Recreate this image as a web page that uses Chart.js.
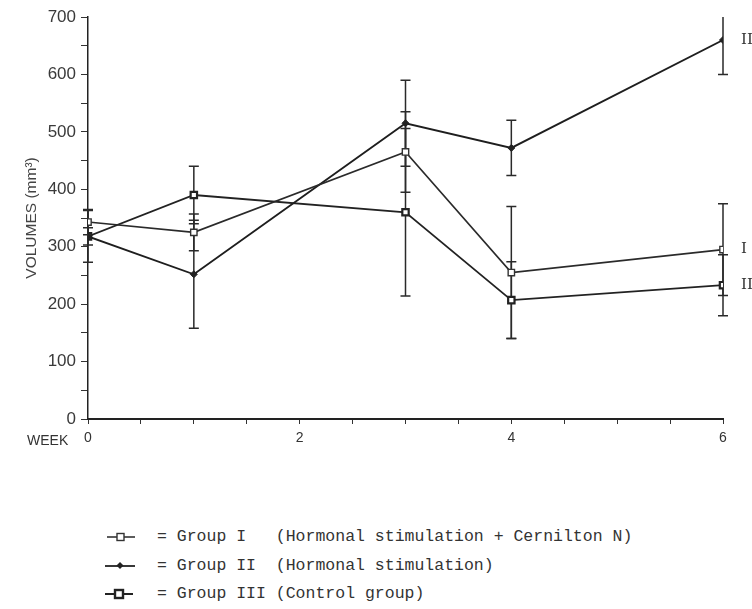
<!DOCTYPE html>
<html>
<head>
<meta charset="utf-8">
<script src="https://cdn.jsdelivr.net/npm/chart.js@4"></script>
<style>
  body { margin: 0; background: #fff; }
  #wrap { position: relative; width: 752px; height: 609px; overflow: hidden; }
  #myChart { position: absolute; left: 0; top: 0; }
  .week { position: absolute; left: 27px; top: 432px; font: 14px "Liberation Sans", sans-serif; color: #333; }
  .legend { position: absolute; left: 0; top: 0; font: 16.5px "Liberation Mono", monospace; color: #333; white-space: pre; }
  .row { position: absolute; left: 105px; height: 20px; line-height: 20px; }
  .row svg { position: absolute; left: 0; top: 4px; }
  .row span { position: absolute; left: 52px; top: 0; }
</style>
</head>
<body>
<div id="wrap">
  <canvas id="myChart" width="752" height="470"></canvas>
  <div class="week">WEEK</div>
  <div class="legend">
    <div class="row" style="top:527px">
      <svg width="32" height="12"><line x1="2" y1="6" x2="30" y2="6" stroke="#333" stroke-width="1.6"/><rect x="12" y="2.5" width="7" height="7" fill="#fff" stroke="#333" stroke-width="1.4"/></svg>
      <span>= Group I   (Hormonal stimulation + Cernilton N)</span>
    </div>
    <div class="row" style="top:556px">
      <svg width="32" height="12"><line x1="0" y1="6" x2="30" y2="6" stroke="#222" stroke-width="1.8"/><rect x="12.5" y="3" width="5" height="5" fill="#222" transform="rotate(45 15 5.5)"/></svg>
      <span>= Group II  (Hormonal stimulation)</span>
    </div>
    <div class="row" style="top:584px">
      <svg width="32" height="12"><line x1="0" y1="6" x2="28" y2="6" stroke="#222" stroke-width="2"/><rect x="10" y="2" width="8" height="8" fill="#fff" stroke="#222" stroke-width="2.4"/></svg>
      <span>= Group III (Control group)</span>
    </div>
  </div>
</div>
<script>
// weeks of measurement
const weeks = [0, 1, 3, 4, 6];

// mean volumes (mm3) and error bar half-lengths
const groupI = [343, 325, 465, 255, 295];
const groupIErr = [22, 32, 70, 115, 80];
const groupII = [318, 252, 515, 472, 660];
const groupIIErr = [45, 94, 75, 48, 60];
const groupIII = [318, 390, 360, 207, 233];
const groupIIIErr = [15, 50, 146, 67, 53];

const endLabels = ['I', 'II', 'III'];
const xLabelWeeks = [0, 2, 4, 6];
const yLabelValues = [0, 100, 200, 300, 400, 500, 600, 700];

const toPoints = vals => vals.map((v, i) => ({ x: weeks[i], y: v }));

const errorBars = {
  id: 'errorBars',
  beforeDatasetsDraw(chart) {
    const ctx = chart.ctx;
    const area = chart.chartArea;
    const xs = chart.scales.x, ys = chart.scales.y;
    ctx.save();
    ctx.beginPath();
    ctx.rect(area.left - 10, area.top, area.right - area.left + 20, area.bottom - area.top);
    ctx.clip();
    ctx.strokeStyle = '#2a2a2a';
    ctx.lineWidth = 1.5;
    chart.data.datasets.forEach(ds => {
      ds.err.forEach((e, i) => {
        const x = xs.getPixelForValue(weeks[i]);
        const top = ys.getPixelForValue(ds.data[i].y + e);
        const bot = ys.getPixelForValue(ds.data[i].y - e);
        ctx.beginPath();
        ctx.moveTo(x, top); ctx.lineTo(x, bot);
        ctx.moveTo(x - 5, top); ctx.lineTo(x + 5, top);
        ctx.moveTo(x - 5, bot); ctx.lineTo(x + 5, bot);
        ctx.stroke();
      });
    });
    ctx.restore();
  },
  afterDraw(chart) {
    const ctx = chart.ctx;
    const ys = chart.scales.y;
    ctx.save();
    ctx.fillStyle = '#333';
    ctx.font = '15px "DejaVu Serif"';
    ctx.textBaseline = 'middle';
    chart.data.datasets.forEach((ds, k) => {
      const last = ds.data[ds.data.length - 1].y;
      ctx.fillText(endLabels[k], 741, ys.getPixelForValue(last));
    });
    ctx.restore();
  }
};

new Chart(document.getElementById('myChart'), {
  type: 'line',
  data: {
    datasets: [
      {
        label: 'Group I', data: toPoints(groupI), err: groupIErr,
        borderColor: '#2a2a2a', borderWidth: 1.6,
        pointStyle: 'rect', pointRadius: 4.5, pointBackgroundColor: '#fff',
        pointBorderColor: '#333', pointBorderWidth: 1.4
      },
      {
        label: 'Group II', data: toPoints(groupII), err: groupIIErr,
        borderColor: '#1e1e1e', borderWidth: 1.9,
        pointStyle: 'rectRot', pointRadius: 3.5, pointBackgroundColor: '#222',
        pointBorderColor: '#222', pointBorderWidth: 1
      },
      {
        label: 'Group III', data: toPoints(groupIII), err: groupIIIErr,
        borderColor: '#222', borderWidth: 1.8,
        pointStyle: 'rect', pointRadius: 4.5, pointBackgroundColor: '#fff',
        pointBorderColor: '#222', pointBorderWidth: 2.2
      }
    ]
  },
  options: {
    responsive: false,
    animation: false,
    layout: { padding: { top: 17, right: 29, bottom: 21, left: 0 } },
    plugins: { legend: { display: false }, tooltip: { enabled: false } },
    scales: {
      x: {
        type: 'linear', min: 0, max: 6,
        afterFit: s => { s.height = 30; },
        border: { color: '#222', width: 2 },
        grid: { drawOnChartArea: false, tickLength: 5, color: '#333' },
        ticks: {
          stepSize: 0.5, autoSkip: false, maxRotation: 0, padding: 6,
          color: '#333', font: { family: 'Liberation Sans', size: 14 },
          callback: v => xLabelWeeks.includes(v) ? String(v) : ''
        }
      },
      y: {
        min: 0, max: 700,
        afterFit: s => { s.width = 88; },
        border: { color: '#222', width: 1.5 },
        grid: { drawOnChartArea: false, tickLength: 7, color: '#333' },
        ticks: {
          stepSize: 50, autoSkip: false, padding: 5,
          color: '#3a3a3a', font: { family: 'Liberation Sans', size: 17 },
          callback: v => yLabelValues.includes(v) ? String(v) : ''
        },
        title: {
          display: true, text: 'VOLUMES (mm³)', color: '#444',
          font: { family: 'Liberation Sans', size: 15.5 },
          padding: { top: 22, bottom: 0 }
        }
      }
    }
  },
  plugins: [errorBars]
});
</script>
</body>
</html>
